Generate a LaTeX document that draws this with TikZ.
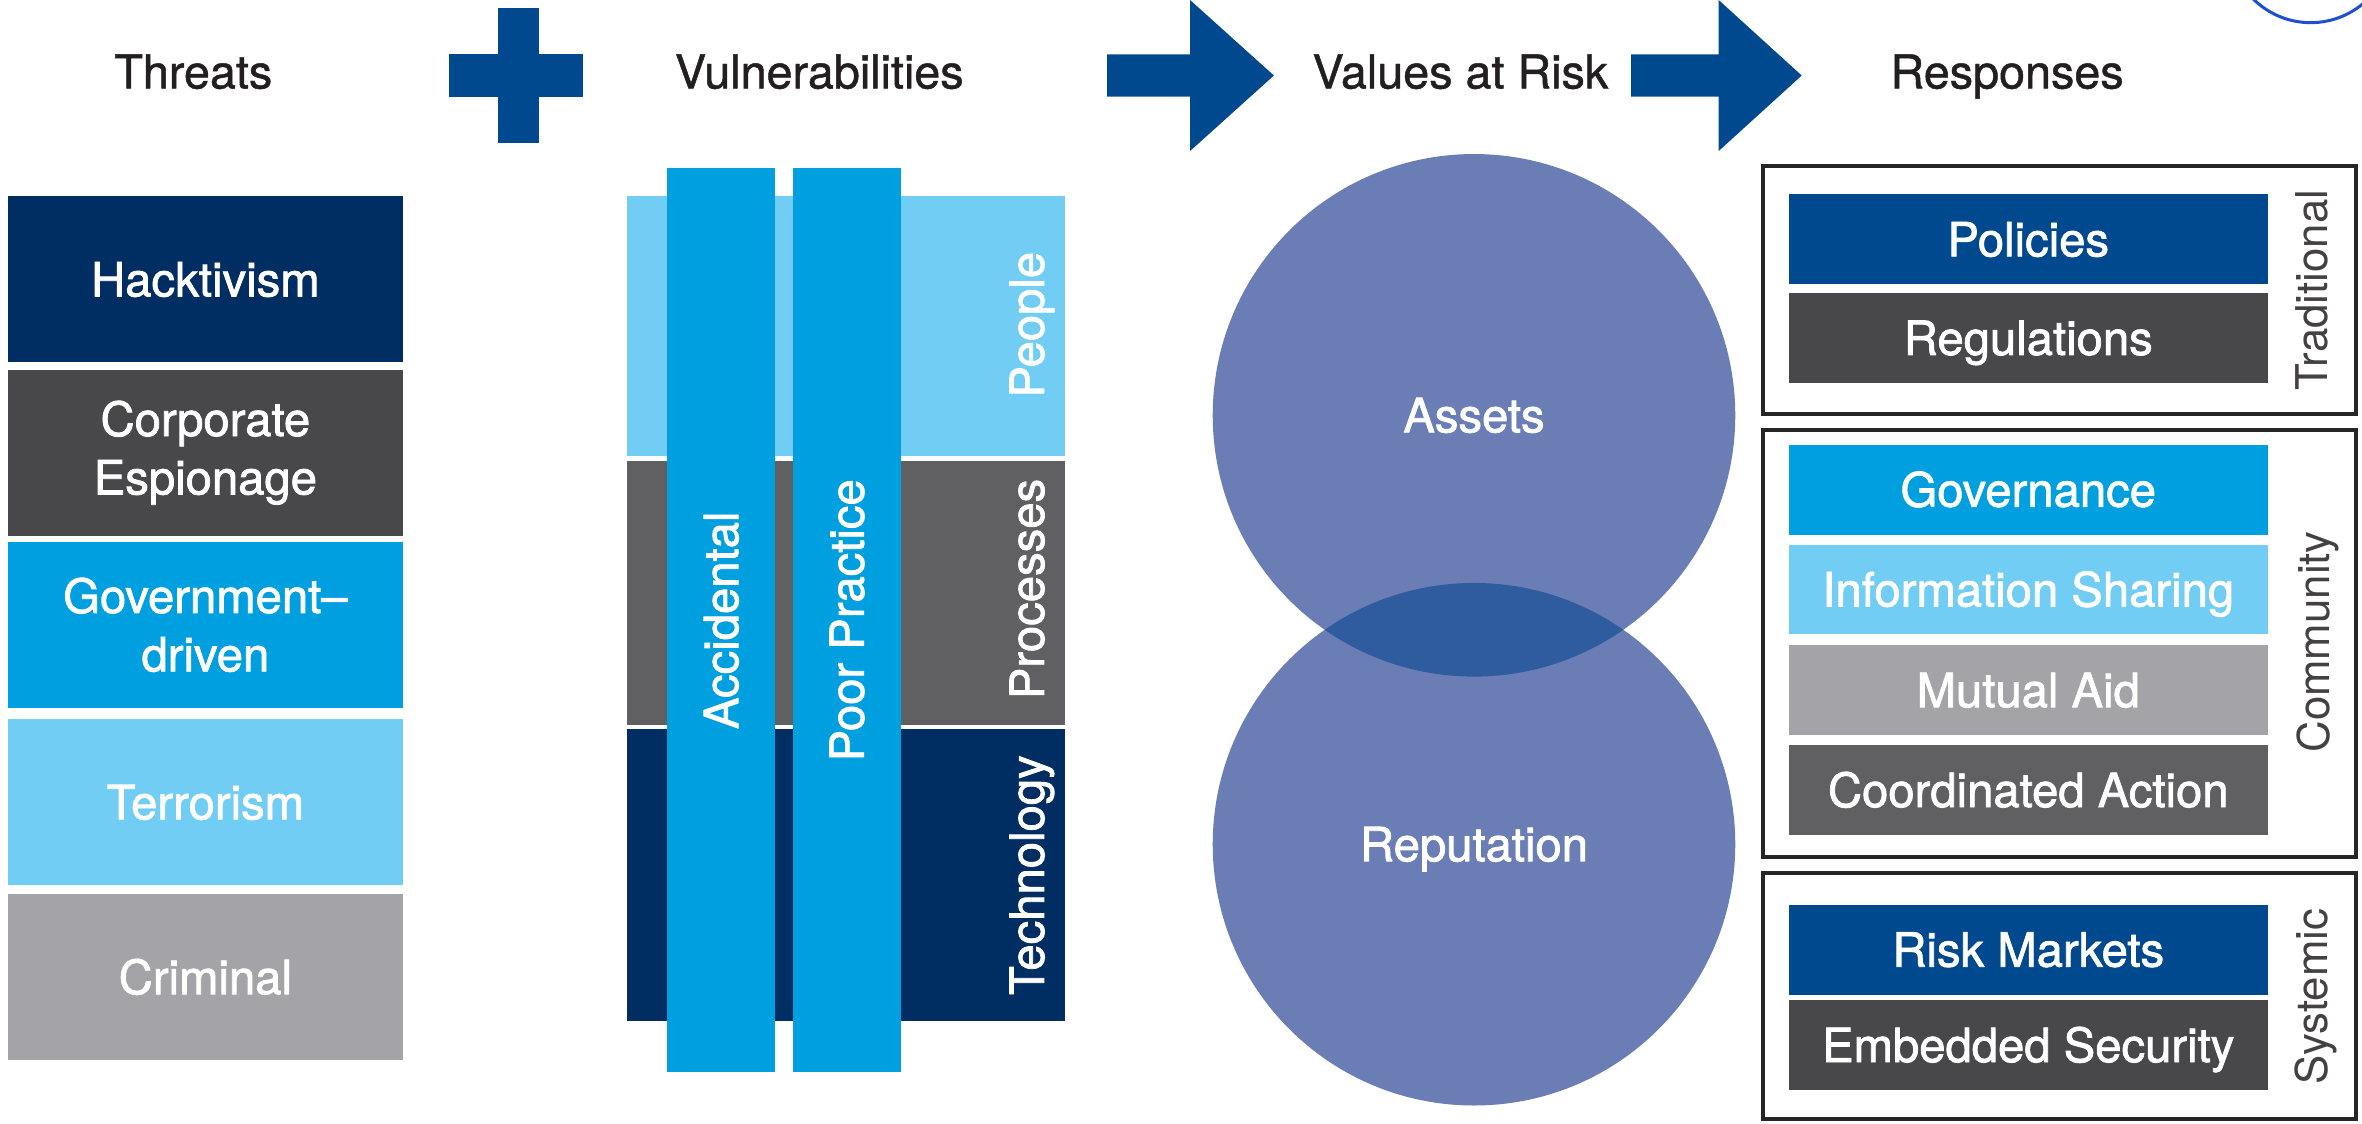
\documentclass[tikz,border=0pt]{standalone}
\usepackage{fontspec}
\setmainfont{TeX Gyre Heros}
\newfontfamily\medfont{TeX Gyre Heros}[FakeBold=1.6]
\newfontfamily\headface{TeX Gyre Heros}[FakeBold=1]
\newlength\pxu
\setlength\pxu{0.2mm}
\newcommand\boxfont{\medfont\fontsize{17.8}{22}\selectfont}
\newcommand\headfont{\headface\fontsize{17.6}{21}\selectfont}
\newcommand\sidefont{\fontsize{16.5}{20}\selectfont}
\definecolor{navy}{RGB}{0,46,99}
\definecolor{darkgray}{RGB}{72,72,74}
\definecolor{midgray}{RGB}{96,96,98}
\definecolor{cyanblue}{RGB}{0,159,223}
\definecolor{lightblue}{RGB}{114,205,244}
\definecolor{lightgray}{RGB}{164,164,168}
\definecolor{royal}{RGB}{0,73,143}
\definecolor{valrisk}{RGB}{106,126,181}
\definecolor{overlap}{RGB}{47,92,158}
\definecolor{headtext}{RGB}{35,31,32}
\definecolor{ring}{RGB}{30,80,210}
\tikzset{
	box/.style={rectangle, inner sep=0pt, outer sep=0pt, text=white, font=\boxfont},
	capbox/.style={box, text height=12.8pt, text depth=0pt},
	threat/.style={capbox, minimum width=262\pxu, minimum height=110\pxu},
	threattwo/.style={box, align=center, minimum width=262\pxu, minimum height=110\pxu},
	layer/.style={box, minimum width=290\pxu},
	bar/.style={capbox, fill=cyanblue, rotate=90, minimum width=598.5\pxu, minimum height=71.5\pxu},
	vlabel/.style={capbox, rotate=90},
	response/.style={capbox, minimum width=317\pxu, minimum height=59.5\pxu},
	group/.style={rectangle, draw=black!85, line width=0.5mm, minimum width=392.5\pxu, inner sep=0pt, outer sep=0pt},
	glabel/.style={inner sep=0pt, rotate=90, text=headtext!85, font=\sidefont, text height=11.9pt, text depth=0pt},
	heading/.style={inner sep=0pt, text=headtext, font=\headfont, text height=12.6pt, text depth=0pt},
	value/.style={circle, fill=valrisk, inner sep=0pt, outer sep=0pt, minimum size=346\pxu, text=white, font=\boxfont, text height=12.8pt, text depth=0pt}
}
\begin{document}
\begin{tikzpicture}[x=0.2mm,y=-0.2mm]
	\useasboundingbox (0,0) rectangle (1564,744);
	\begin{scope}
		\clip (0,0) rectangle (1564,744);
		\draw[ring, line width=0.4mm] (1530,-39) circle [radius=54\pxu];
	\end{scope}
	
	\node[heading] (hthreats) at (128,47.5) {Threats};
	\node[heading] (hvuln) at (542.5,47.5) {Vulnerabilities};
	\node[heading] (hvalues) at (967,47.5) {Values at Risk};
	\node[heading] (hresp) at (1329,47.5) {Responses};
	
	\fill[royal] (297,36) rectangle (386,64);
	\fill[royal] (330,5) rectangle (357,95);
	\fill[royal] (733,36) -- (788,36) -- (788,0) -- (843.5,50) -- (788,100) -- (788,64) -- (733,64) -- cycle;
	\fill[royal] (1080,36) -- (1138,36) -- (1138,0) -- (1193,50) -- (1138,100) -- (1138,64) -- (1080,64) -- cycle;
	
	\node[threat, fill=navy] (hack) at (136,185) {Hacktivism};
	\node[threattwo, fill=darkgray] (corp) at (136,299.75) {Corporate\\Espionage};
	\node[threattwo, fill=cyanblue] (govt) at (136,413.75) {Government–\\driven};
	\node[threat, fill=lightblue] (terror) at (136,531.25) {Terrorism};
	\node[threat, fill=lightgray] (crim) at (136,647) {Criminal};
	
	\node[layer, fill=lightblue, minimum height=172\pxu] (people) at (560,216) {};
	\node[layer, fill=midgray, minimum height=175\pxu] (process) at (560,392.5) {};
	\node[layer, fill=navy, minimum height=193\pxu] (tech) at (560,579.5) {};
	\node[bar] (accid) at (477.5,410.75) {Accidental};
	\node[bar] (poor) at (560.75,410.75) {Poor Practice};
	\node[vlabel] (peoplelbl) at (680,215) {People};
	\node[vlabel] (processlbl) at (680,390) {Processes};
	\node[vlabel] (techlbl) at (680,579.5) {Technology};
	
	\node[value] (assets) at (976,275) {Assets};
	\node[value] (reput) at (976,559) {Reputation};
	\begin{scope}
		\clip (assets.center) circle [radius=173\pxu];
		\fill[overlap] (reput.center) circle [radius=173\pxu];
	\end{scope}
	
	\node[group, minimum height=164\pxu] (trad) at (1363.65,192) {};
	\node[group, minimum height=282.8\pxu] (comm) at (1363.65,426.1) {};
	\node[group, minimum height=163\pxu] (syst) at (1363.65,659.5) {};
	\node[glabel] (tradlbl) at (1531,192) {Traditional};
	\node[glabel] (commlbl) at (1532,425) {Community};
	\node[glabel] (systlbl) at (1531,660) {Systemic};
	
	\node[response, fill=royal] (policies) at (1343,158.5) {Policies};
	\node[response, fill=darkgray] (regs) at (1343,223.75) {Regulations};
	\node[response, fill=cyanblue] (govern) at (1343,324.25) {Governance};
	\node[response, fill=lightblue] (infoshare) at (1343,390.3) {Information Sharing};
	\node[response, fill=lightgray] (mutual) at (1343,457) {Mutual Aid};
	\node[response, fill=midgray] (coord) at (1343,523.15) {Coordinated Action};
	\node[response, fill=royal] (riskmkt) at (1343,628.8) {Risk Markets};
	\node[response, fill=darkgray] (embed) at (1343,692) {Embedded Security};
\end{tikzpicture}
\end{document}
